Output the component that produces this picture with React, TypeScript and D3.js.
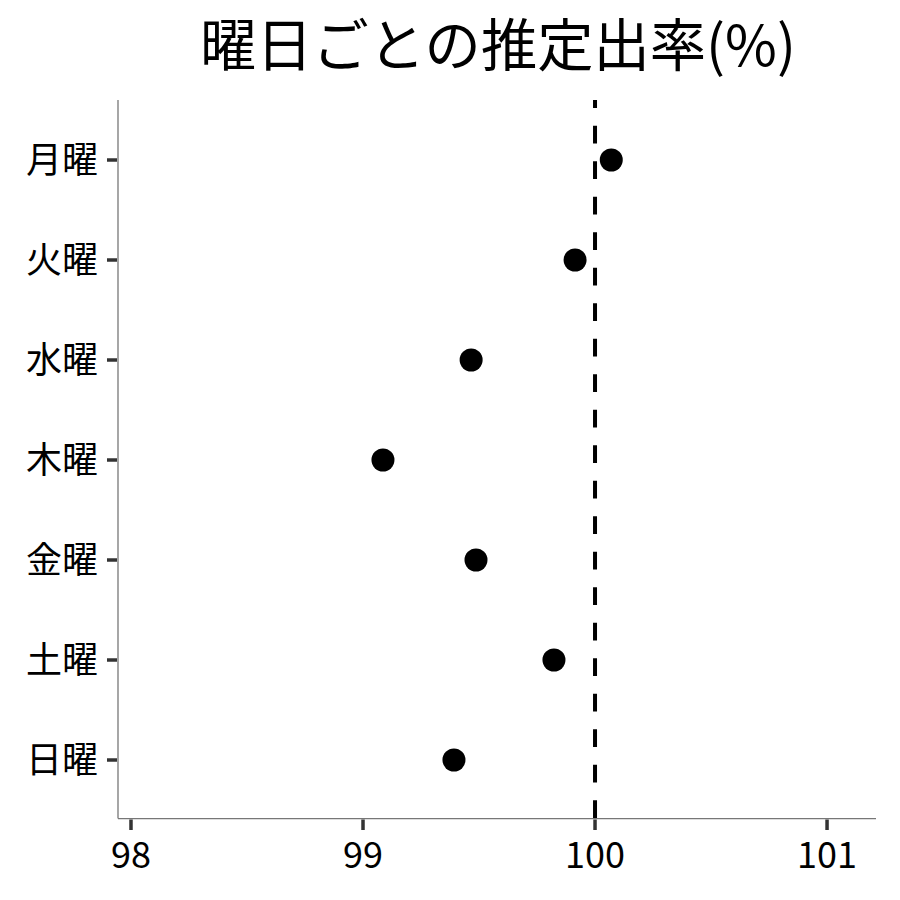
import React from 'react';
import * as d3 from 'd3';

const days = ['月曜', '火曜', '水曜', '木曜', '金曜', '土曜', '日曜'];
const rates = [100.07, 99.914, 99.466, 99.086, 99.487, 99.823, 99.392];
const xTicks = [98, 99, 100, 101];
const refValue = 100;

const W = 900;
const H = 900;
const left = 118;
const right = 876;
const top = 100;
const bottom = 818;
const font = '"Noto Sans CJK JP", "Noto Sans", sans-serif';

const App: React.FC = () => {
  const x = d3.scaleLinear().domain([97.944, 101.211]).range([left, right]);
  const y = d3.scalePoint<string>().domain(days).range([160, 760]);

  return (
    <svg width={W} height={H} style={{ display: 'block', margin: -8 }} fontFamily={font}>
      <rect width={W} height={H} fill="#fff" />

      <text x={(left + right) / 2 + 1} y={66} textAnchor="middle" fontSize={56.3} fill="#000">
        曜日ごとの推定出率(%)
      </text>

      {/* axis lines */}
      <line x1={left} x2={left} y1={top} y2={bottom + 0.6} stroke="#777" strokeWidth={1.3} />
      <line x1={left} x2={right} y1={bottom + 0.6} y2={bottom + 0.6} stroke="#777" strokeWidth={1.3} />

      {/* y ticks */}
      {days.map(d => (
        <g key={d} transform={`translate(0,${y(d)})`}>
          <line x1={left - 11} x2={left - 1} stroke="#333" strokeWidth={3.5} />
          <text x={98} dy="0.36em" textAnchor="end" fontSize={36} fill="#000">{d}</text>
        </g>
      ))}

      {/* x ticks */}
      {xTicks.map(t => (
        <g key={t} transform={`translate(${x(t)},0)`}>
          <line y1={bottom + 1.5} y2={bottom + 12} stroke="#333" strokeWidth={3.5} />
          <text y={868} textAnchor="middle" fontSize={36} fill="#000">{t}</text>
        </g>
      ))}

      {/* reference line, dashes start from the bottom */}
      <line
        x1={x(refValue)} x2={x(refValue)} y1={bottom} y2={top}
        stroke="#000" strokeWidth={4} strokeDasharray="17.7,17.8"
      />

      {days.map((d, i) => (
        <circle key={d} cx={x(rates[i])} cy={y(d)} r={11.5} fill="#000" />
      ))}
    </svg>
  );
};

export default App;
